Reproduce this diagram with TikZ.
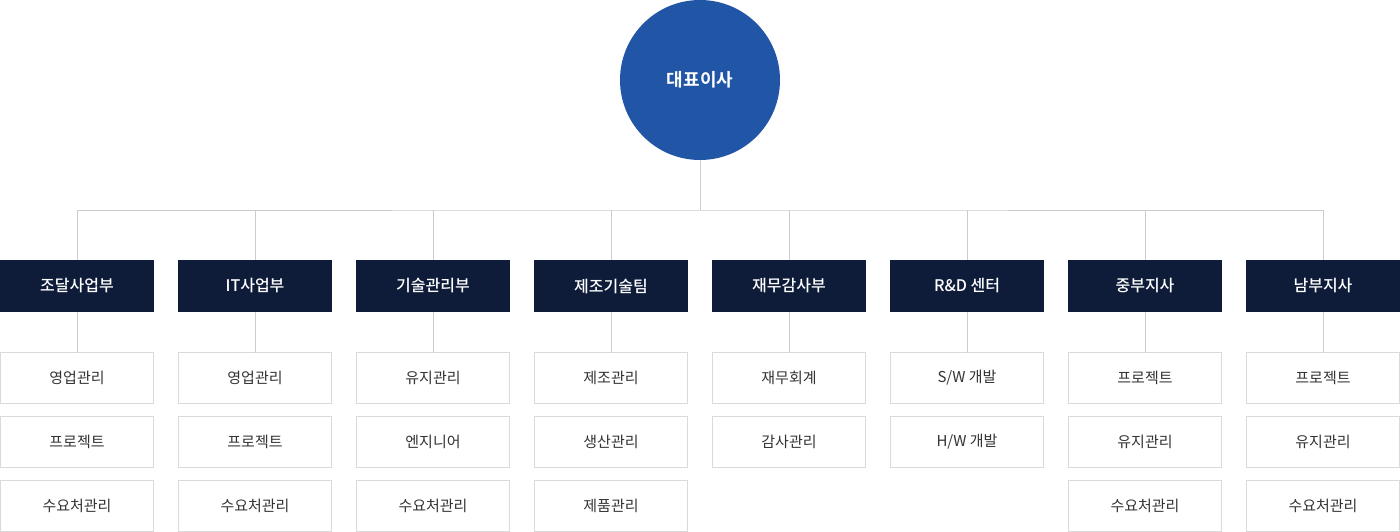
\documentclass[tikz,border=0pt]{standalone}
\usepackage{fontspec}
\setmainfont{Noto Sans CJK KR}[BoldFont={Noto Sans CJK KR Medium}]
\newfontfamily\heavy{Noto Sans CJK KR Bold}
\usepackage{xcolor}
\definecolor{ceoblue}{RGB}{33,85,165}
\definecolor{navy}{RGB}{14,28,58}
\definecolor{lgray}{RGB}{204,204,204}
\definecolor{bgray}{RGB}{218,218,218}
\definecolor{tgray}{RGB}{51,51,51}
\usetikzlibrary{positioning}
\tikzstyle{Line} = [line width=1pt, lgray]
\tikzstyle{Ceo} = [circle, fill=ceoblue, minimum size=160pt, inner sep=0pt,
outer sep=0pt, text=white, font=\fontsize{18}{18}\heavy]
\tikzstyle{Dept} = [rectangle, fill=navy, minimum width=154pt, minimum height=52pt,
inner sep=0pt, outer sep=0pt, text=white, font=\fontsize{16}{16}\selectfont\bfseries]
\tikzstyle{Team} = [rectangle, draw=bgray, line width=1pt, fill=white,
minimum width=153pt, minimum height=51pt, inner sep=0pt, outer sep=0pt,
text=tgray, font=\fontsize{15}{15}\selectfont]

\begin{document}
\begin{tikzpicture}[x=1pt, y=1pt, node distance=24pt]
    \useasboundingbox (0,0) rectangle (1400,-532);
    \node [Ceo] (ceo) at (700,-80) {대표이사};
    \coordinate (bus) at (700,-210);

    \node [Dept] (d1) at (77,-286) {조달사업부};
    \node [Dept, right =of d1] (d2) {IT사업부};
    \node [Dept, right =of d2] (d3) {기술관리부};
    \node [Dept, right =of d3] (d4) {제조기술팀};
    \node [Dept, right =of d4] (d5) {재무감사부};
    \node [Dept, right =of d5] (d6) {R\&D 센터};
    \node [Dept, right =of d6] (d7) {중부지사};
    \node [Dept, right =of d7] (d8) {남부지사};

    \node [Team, below =40.5pt of d1] (t11) {영업관리};
    \node [Team, below =13pt of t11] (t12) {프로젝트};
    \node [Team, below =13pt of t12] (t13) {수요처관리};
    \node [Team, below =40.5pt of d2] (t21) {영업관리};
    \node [Team, below =13pt of t21] (t22) {프로젝트};
    \node [Team, below =13pt of t22] (t23) {수요처관리};
    \node [Team, below =40.5pt of d3] (t31) {유지관리};
    \node [Team, below =13pt of t31] (t32) {엔지니어};
    \node [Team, below =13pt of t32] (t33) {수요처관리};
    \node [Team, below =40.5pt of d4] (t41) {제조관리};
    \node [Team, below =13pt of t41] (t42) {생산관리};
    \node [Team, below =13pt of t42] (t43) {제품관리};
    \node [Team, below =40.5pt of d5] (t51) {재무회계};
    \node [Team, below =13pt of t51] (t52) {감사관리};
    \node [Team, below =40.5pt of d6] (t61) {S/W 개발};
    \node [Team, below =13pt of t61] (t62) {H/W 개발};
    \node [Team, below =40.5pt of d7] (t71) {프로젝트};
    \node [Team, below =13pt of t71] (t72) {유지관리};
    \node [Team, below =13pt of t72] (t73) {수요처관리};
    \node [Team, below =40.5pt of d8] (t81) {프로젝트};
    \node [Team, below =13pt of t81] (t82) {유지관리};
    \node [Team, below =13pt of t82] (t83) {수요처관리};

    \draw[Line] (ceo) -- (bus);
    \draw[Line] (d1.north) |- (bus) -| (d8.north);
    \draw[Line] (d2.north) -- (d2.north |- bus);
    \draw[Line] (d3.north) -- (d3.north |- bus);
    \draw[Line] (d4.north) -- (d4.north |- bus);
    \draw[Line] (d5.north) -- (d5.north |- bus);
    \draw[Line] (d6.north) -- (d6.north |- bus);
    \draw[Line] (d7.north) -- (d7.north |- bus);
    \draw[Line] (d1) -- (t11);
    \draw[Line] (d2) -- (t21);
    \draw[Line] (d3) -- (t31);
    \draw[Line] (d4) -- (t41);
    \draw[Line] (d5) -- (t51);
    \draw[Line] (d6) -- (t61);
    \draw[Line] (d7) -- (t71);
    \draw[Line] (d8) -- (t81);
\end{tikzpicture}
\end{document}
